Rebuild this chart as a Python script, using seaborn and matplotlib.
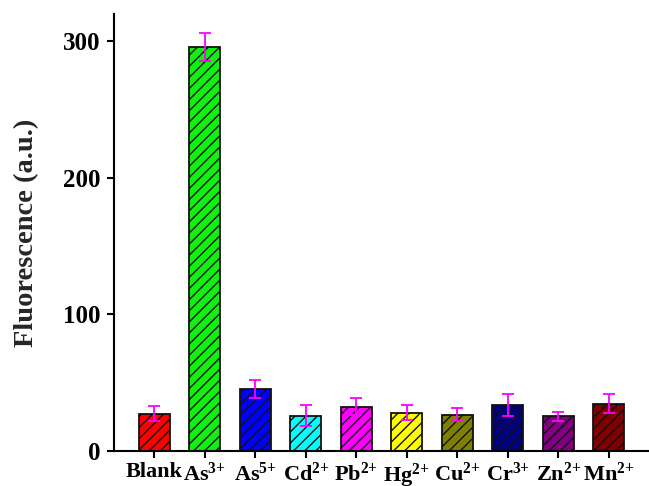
import matplotlib
matplotlib.use('Agg')
import matplotlib.pyplot as plt
import numpy as np
import seaborn as sns

sns.set_theme(style='ticks')
plt.rcParams['font.family'] = ['Liberation Serif', 'DejaVu Serif']
plt.rcParams['font.weight'] = 'bold'
plt.rcParams['mathtext.fontset'] = 'custom'
plt.rcParams['mathtext.rm'] = 'Liberation Serif:bold'
plt.rcParams['mathtext.it'] = 'Liberation Serif:bold'
plt.rcParams['mathtext.bf'] = 'Liberation Serif:bold'
plt.rcParams['mathtext.default'] = 'rm'
plt.rcParams['hatch.linewidth'] = 1.0

# --- data ---
ions = ['Blank', 'As$^{3{+}}$', 'As$^{5{+}}$', 'Cd$^{2{+}}$', 'Pb$^{2{+}}$',
        'Hg$^{2{+}}$', 'Cu$^{2{+}}$', 'Cr$^{3{+}}$', 'Zn$^{2{+}}$', 'Mn$^{2{+}}$']
fluorescence = [27.3, 296.0, 45.5, 26.0, 32.4, 28.0, 26.6, 33.6, 25.5, 34.6]
err = [5.3, 10.0, 6.5, 8.0, 6.3, 5.5, 4.8, 8.0, 3.2, 7.0]
bar_colors = ['#FF0000', '#11F011', '#0000FF', '#00FFFF', '#FF00FF',
              '#FFFF00', '#808000', '#000080', '#800080', '#800000']

fig = plt.figure(figsize=(6.49, 4.86), dpi=100)
ax = fig.add_axes([0.1757, 0.072, 0.8243, 0.899])

sns.barplot(x=ions, y=fluorescence, hue=ions, palette=bar_colors, legend=False,
            width=0.61, errorbar=None, edgecolor='#111111', linewidth=1.3,
            saturation=1, ax=ax)
for p in ax.patches:
    p.set_hatch('///')

ax.errorbar(np.arange(len(ions)), fluorescence, yerr=err, fmt='none',
            ecolor='#FF00FF', elinewidth=1.3, capsize=4.5, capthick=1.3, zorder=5)

ax.set_xlim(-0.8, 9.8)
ax.set_ylim(0, 320)
ax.set_yticks([0, 100, 200, 300])
ax.set_ylabel('Fluorescence (a.u.)', fontsize=20.5, fontweight='bold')
ax.yaxis.set_label_coords(-0.14, 0.5)
ax.set_xlabel('')

sns.despine(ax=ax)
for s in ['left', 'bottom']:
    ax.spines[s].set_linewidth(1.5)
    ax.spines[s].set_color('black')
ax.tick_params(axis='y', direction='out', length=5, width=1.5, pad=5, labelsize=18, colors='black')
ax.tick_params(axis='x', direction='out', length=5, width=1.5, pad=3, labelsize=16, colors='black')
for lab in ax.get_xticklabels() + ax.get_yticklabels():
    lab.set_fontweight('bold')

fig.savefig('out.png', dpi=100)
